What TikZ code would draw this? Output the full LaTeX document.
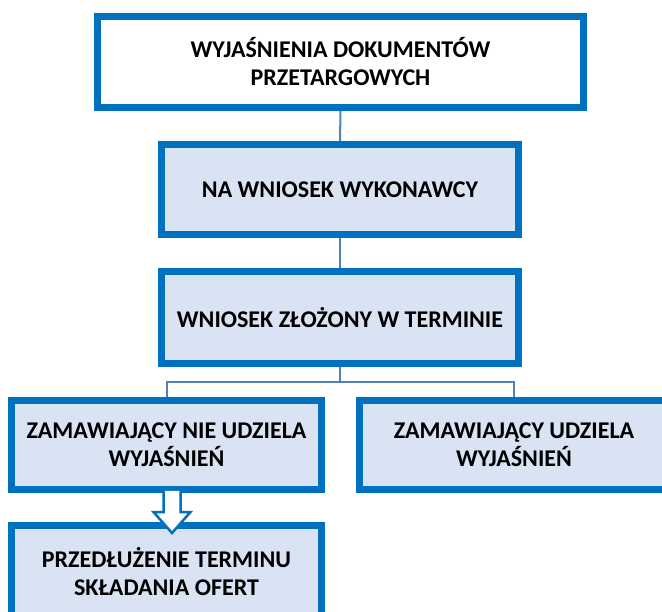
\documentclass[tikz,border=0pt]{standalone}
\usepackage{fontspec}
\setmainfont{Carlito}
\usetikzlibrary{calc}
\definecolor{boxblue}{RGB}{0,112,192}
\definecolor{boxfill}{RGB}{218,227,243}
\definecolor{linkblue}{RGB}{79,129,189}
\begin{document}
\begin{tikzpicture}[x=1pt,y=-1pt,
  box/.style={draw=boxblue,line width=7pt,fill=boxfill,align=center,
    font=\fontsize{24}{28}\selectfont\bfseries,inner sep=0pt},
  link/.style={draw=linkblue,line width=2pt}]
\useasboundingbox (0,0) rectangle (662,612);
\clip (0,0) rectangle (662,612);
\node[box,fill=white,minimum width=486pt,minimum height=91pt] (b1) at (340.5,62) {WYJAŚNIENIA DOKUMENTÓW\\PRZETARGOWYCH};
\node[box,minimum width=357pt,minimum height=90pt] (b2) at (340,189.5) {NA WNIOSEK WYKONAWCY};
\node[box,minimum width=357pt,minimum height=92pt] (b3) at (340,317.5) {WNIOSEK ZŁOŻONY W TERMINIE};
\node[box,minimum width=310pt,minimum height=89pt] (b4) at (166.5,445) {ZAMAWIAJĄCY NIE UDZIELA\\WYJAŚNIEŃ};
\node[box,minimum width=309pt,minimum height=89pt] (b5) at (514,445) {ZAMAWIAJĄCY UDZIELA\\WYJAŚNIEŃ};
\node[box,minimum width=310pt,minimum height=92pt,anchor=north] (b6) at (166.5,522) {PRZEDŁUŻENIE TERMINU\\SKŁADANIA OFERT};
\draw[link] (b1.south) -- (b2.north);
\draw[link] (b2.south) -- (b3.north);
\coordinate (j) at ($(b3.south)+(0,15)$);
\draw[link] (b3.south) -- (j);
\draw[link] (j) -| (b4.north);
\draw[link] (j) -| (b5.north);
\coordinate (ax) at (172,0);
\coordinate (as) at (b4.south -| ax);
\coordinate (ae) at (b6.north -| ax);
\draw[draw=boxblue,fill=white,line width=2.5pt,line join=miter]
  ($(as)+(-8.5,-2)$) -- ($(as)+(-8.5,19)$) -- ($(as)+(-18.5,19)$) -- ($(ae)+(0,11)$)
  -- ($(as)+(18.5,19)$) -- ($(as)+(8.5,19)$) -- ($(as)+(8.5,-2)$);
\end{tikzpicture}
\end{document}
